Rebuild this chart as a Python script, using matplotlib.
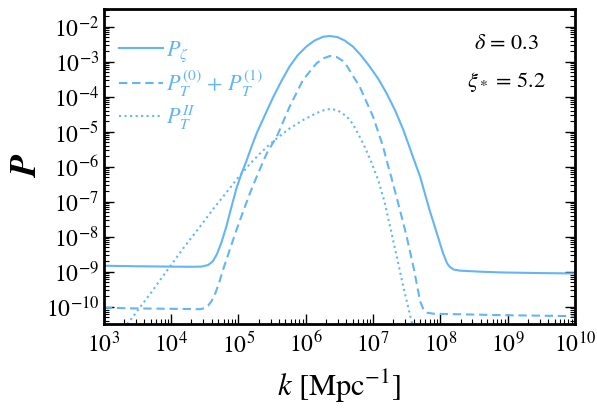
import numpy as np
import matplotlib
matplotlib.use('Agg')
import matplotlib.pyplot as plt
from matplotlib.ticker import LogLocator, NullFormatter

plt.rcParams['font.family'] = 'STIXGeneral'
plt.rcParams['mathtext.fontset'] = 'stix'

# values, as log10(k) and log10(P)
logk_zeta = [3.0, 3.5, 4.0, 4.3, 4.45, 4.55, 4.62, 4.68, 4.75, 4.82, 4.90, 4.97, 5.05, 5.12,
             5.20, 5.27, 5.40, 5.52, 5.64, 5.76, 5.88, 6.01, 6.13, 6.26, 6.36, 6.47, 6.58,
             6.70, 6.82, 6.95, 7.08, 7.20, 7.33, 7.45, 7.58, 7.70, 7.84, 7.94, 8.04, 8.10,
             8.14, 8.20, 8.29, 8.6, 8.88, 9.5, 10.0]
logP_zeta = [-8.83, -8.845, -8.855, -8.86, -8.855, -8.81, -8.70, -8.50, -8.15, -7.71, -7.12,
             -6.62, -6.17, -5.83, -5.40, -5.05, -4.50, -4.00, -3.55, -3.14, -2.82, -2.57,
             -2.40, -2.29, -2.27, -2.30, -2.40, -2.57, -2.82, -3.14, -3.50, -3.90, -4.40,
             -4.95, -5.65, -6.29, -7.24, -7.85, -8.47, -8.76, -8.86, -8.94, -8.97, -9.00,
             -9.02, -9.04, -9.05]

logk_T01 = [3.0, 3.5, 4.0, 4.43, 4.50, 4.55, 4.60, 4.66, 4.72, 4.77, 4.87, 4.97, 5.07, 5.17,
            5.27, 5.42, 5.57, 5.76, 5.96, 6.16, 6.26, 6.36, 6.46, 6.55, 6.61, 6.80, 7.00,
            7.15, 7.20, 7.27, 7.40, 7.50, 7.60, 7.65, 7.70, 7.75, 7.80, 7.90, 8.14, 8.88, 10.0]
logP_T01 = [-10.03, -10.05, -10.06, -10.07, -10.04, -9.97, -9.84, -9.60, -9.27, -8.95, -8.38,
            -7.81, -7.28, -6.76, -6.29, -5.62, -5.14, -4.29, -3.52, -3.05, -2.91, -2.84,
            -2.87, -2.98, -3.12, -3.71, -4.57, -5.43, -5.81, -6.29, -7.24, -8.00, -8.86,
            -9.35, -9.85, -10.08, -10.17, -10.20, -10.21, -10.24, -10.27]

logk_TII = [3.30, 3.36, 3.7, 3.98, 4.2, 4.43, 4.62, 4.82, 5.0, 5.15, 5.3, 5.45, 5.57, 5.76,
            5.96, 6.16, 6.28, 6.38, 6.48, 6.61, 6.70, 6.80, 6.88, 6.97, 7.08, 7.17, 7.25,
            7.35, 7.45, 7.57, 7.62]
logP_TII = [-10.63, -10.47, -9.60, -8.86, -8.28, -7.71, -7.22, -6.74, -6.30, -5.97, -5.66,
            -5.39, -5.19, -4.91, -4.67, -4.47, -4.38, -4.35, -4.40, -4.57, -4.78, -5.14,
            -5.45, -5.85, -6.40, -7.00, -7.68, -8.55, -9.43, -10.40, -10.80]

color = '#63b5f6'

fig = plt.figure(figsize=(5.97, 4.09), dpi=100)
ax = fig.add_axes([0.174, 0.209, 0.789, 0.768])

ax.plot(10**np.array(logk_zeta), 10**np.array(logP_zeta), '-', color=color, lw=1.5,
        label=r'$P_\zeta$')
ax.plot(10**np.array(logk_T01), 10**np.array(logP_T01), '--', color=color, lw=1.5,
        dashes=(4, 2.3), label=r'$P_T^{(0)}$ + $P_T^{(1)}$')
ax.plot(10**np.array(logk_TII), 10**np.array(logP_TII), ':', color=color, lw=1.5,
        label=r'$P_T^{II}$')

ax.set_xscale('log')
ax.set_yscale('log')
ax.set_xlim(1e3, 1e10)
ax.set_ylim(10**-10.48, 10**-1.51)

ax.xaxis.set_major_locator(LogLocator(base=10, numticks=20))
ax.xaxis.set_minor_locator(LogLocator(base=10, subs=np.arange(2, 10), numticks=20))
ax.yaxis.set_major_locator(LogLocator(base=10, numticks=20))
ax.yaxis.set_minor_locator(LogLocator(base=10, subs=np.arange(2, 10), numticks=20))
ax.xaxis.set_minor_formatter(NullFormatter())
ax.yaxis.set_minor_formatter(NullFormatter())

ax.tick_params(which='both', direction='in', left=True, right=True, bottom=True, top=False,
               labelsize=17)
ax.tick_params(which='major', length=7, width=1)
ax.tick_params(which='minor', length=3.5, width=0.8)
ax.tick_params(axis='x', pad=6)
for s in ax.spines.values():
    s.set_linewidth(2)

ax.set_xlabel(r'$k$ [Mpc$^{-1}$]', fontsize=22, labelpad=7)
ax.set_ylabel('P', fontsize=26, fontstyle='italic', fontweight='bold', rotation=90)
ax.yaxis.set_label_coords(-0.125, 0.5)

leg = ax.legend(loc='upper left', bbox_to_anchor=(0.0, 0.955), frameon=False, fontsize=16,
                handlelength=1.95, labelspacing=0.2, borderaxespad=0.3, handletextpad=0.15,
                labelcolor=color)

ax.text(0.855, 0.89, r'$\delta$ = 0.3', transform=ax.transAxes, ha='center', va='center',
        fontsize=16)
ax.text(0.855, 0.77, r'$\xi_*$ = 5.2', transform=ax.transAxes, ha='center', va='center',
        fontsize=16)

fig.savefig('out.png', dpi=100)
